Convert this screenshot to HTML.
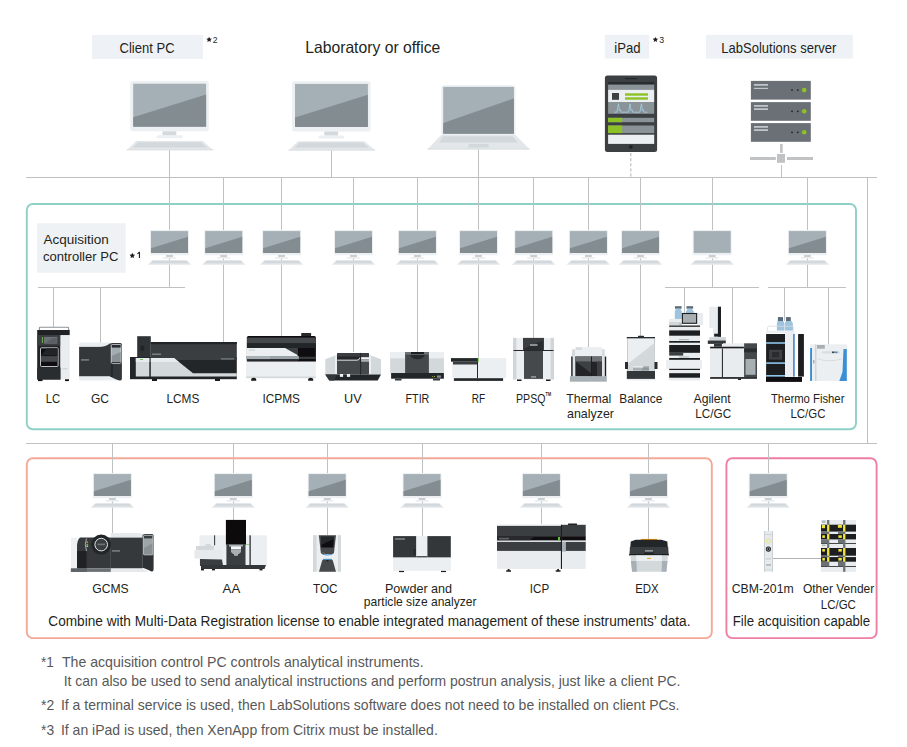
<!DOCTYPE html>
<html><head><meta charset="utf-8"><title>LabSolutions network</title>
<style>html,body{margin:0;padding:0;background:#fff;}svg{display:block;}</style>
</head><body>
<svg width="907" height="747" viewBox="0 0 907 747" font-family="Liberation Sans, sans-serif">
<rect width="907" height="747" fill="#ffffff"/>
<rect x="92" y="35" width="111" height="24" fill="#eef2f6"/>
<text x="119.56" y="53.05" font-size="14.2" fill="#231f20" textLength="55.02" lengthAdjust="spacingAndGlyphs">Client PC</text>
<polygon points="209.10,36.70 209.95,38.43 211.86,38.70 210.48,40.05 210.80,41.95 209.10,41.05 207.40,41.95 207.72,40.05 206.34,38.70 208.25,38.43" fill="#231f20"/>
<text x="212.78" y="42.7" font-size="9.3" fill="#231f20" textLength="4.81" lengthAdjust="spacingAndGlyphs">2</text>
<text x="305.21" y="52.9" font-size="16.5" fill="#231f20" textLength="135.06" lengthAdjust="spacingAndGlyphs">Laboratory or office</text>
<rect x="604.8" y="34.8" width="44.4" height="23.8" fill="#eef2f6"/>
<text x="614.32" y="53.05" font-size="14.2" fill="#231f20" textLength="26.23" lengthAdjust="spacingAndGlyphs">iPad</text>
<polygon points="655.40,36.90 656.22,38.57 658.06,38.83 656.73,40.13 657.05,41.97 655.40,41.10 653.75,41.97 654.07,40.13 652.74,38.83 654.58,38.57" fill="#231f20"/>
<text x="659.37" y="42.8" font-size="9.3" fill="#231f20" textLength="4.88" lengthAdjust="spacingAndGlyphs">3</text>
<rect x="706" y="34.8" width="146.8" height="23.8" fill="#eef2f6"/>
<text x="721.35" y="53.05" font-size="14.2" fill="#231f20" textLength="114.94" lengthAdjust="spacingAndGlyphs">LabSolutions server</text>
<rect x="26.8" y="204" width="829.2" height="225.3" rx="6" fill="none" stroke="#8fd0c6" stroke-width="1.9"/>
<rect x="26.8" y="458.2" width="685" height="179.9" rx="6" fill="none" stroke="#f4a897" stroke-width="1.9"/>
<rect x="726.4" y="458.2" width="150.2" height="179.9" rx="6" fill="none" stroke="#ee7fa3" stroke-width="1.9"/>
<rect x="26" y="177" width="851" height="1" fill="#bfc1c1"/>
<rect x="26" y="443" width="851" height="1" fill="#bfc1c1"/>
<rect x="867" y="177" width="1" height="267" fill="#bfc1c1"/>
<rect x="169" y="150" width="1" height="137" fill="#bfc1c1"/>
<rect x="331" y="150" width="1" height="27" fill="#bfc1c1"/>
<rect x="478" y="149" width="1" height="209" fill="#bfc1c1"/>
<rect x="630.4" y="153.0" width="0.9" height="3.2" fill="#a9adae"/>
<rect x="630.4" y="158.1" width="0.9" height="3.2" fill="#a9adae"/>
<rect x="630.4" y="163.2" width="0.9" height="3.2" fill="#a9adae"/>
<rect x="630.4" y="168.3" width="0.9" height="3.2" fill="#a9adae"/>
<rect x="630.4" y="173.4" width="0.9" height="3.2" fill="#a9adae"/>
<rect x="781" y="165" width="1" height="12" fill="#bfc1c1"/>
<rect x="223" y="177" width="1" height="165" fill="#bfc1c1"/>
<rect x="281" y="177" width="1" height="159" fill="#bfc1c1"/>
<rect x="353" y="177" width="1" height="175" fill="#bfc1c1"/>
<rect x="417" y="177" width="1" height="175" fill="#bfc1c1"/>
<rect x="533" y="177" width="1" height="161" fill="#bfc1c1"/>
<rect x="588" y="177" width="1" height="170" fill="#bfc1c1"/>
<rect x="640" y="177" width="1" height="160" fill="#bfc1c1"/>
<rect x="712" y="177" width="1" height="110" fill="#bfc1c1"/>
<rect x="807" y="177" width="1" height="110" fill="#bfc1c1"/>
<rect x="38" y="287" width="147" height="1" fill="#bfc1c1"/>
<rect x="53" y="287" width="1" height="40" fill="#bfc1c1"/>
<rect x="100" y="287" width="1" height="56" fill="#bfc1c1"/>
<rect x="665" y="287" width="94" height="1" fill="#bfc1c1"/>
<rect x="684" y="287" width="1" height="26" fill="#bfc1c1"/>
<rect x="732" y="287" width="1" height="59" fill="#bfc1c1"/>
<rect x="768" y="287" width="78" height="1" fill="#bfc1c1"/>
<rect x="784" y="287" width="1" height="34" fill="#bfc1c1"/>
<rect x="828" y="287" width="1" height="58" fill="#bfc1c1"/>
<rect x="112" y="443" width="1" height="90" fill="#bfc1c1"/>
<rect x="233" y="443" width="1" height="77" fill="#bfc1c1"/>
<rect x="327" y="443" width="1" height="92" fill="#bfc1c1"/>
<rect x="422" y="443" width="1" height="93" fill="#bfc1c1"/>
<rect x="541" y="443" width="1" height="81" fill="#bfc1c1"/>
<rect x="648" y="443" width="1" height="96" fill="#bfc1c1"/>
<rect x="768" y="443" width="1" height="88" fill="#bfc1c1"/>
<g transform="translate(169.5,81)"><rect x="-39.3" y="0" width="78.6" height="50.3" rx="2.2" fill="#ecf0f2"/><rect x="-36.3" y="2.7" width="72.9" height="43" fill="#a5b0b6"/><polygon points="-36.3,36.2 36.6,13.5 36.6,45.7 -36.3,45.7" fill="#838c90"/><rect x="-7" y="50.3" width="13.8" height="4.2" fill="#d3d9dc"/><rect x="-13" y="54.3" width="26.1" height="3" rx="1.5" fill="#ecf0f2"/><polygon points="-33.3,60 33.3,60 43.9,69.2 -42.8,69.2" fill="#e3e7ea"/><polygon points="-31.5,61.3 31.3,61.3 37.7,66.6 -36.8,66.6" fill="#d2d8db"/><rect x="-42.8" y="68.1" width="86.7" height="1.1" rx="0.5" fill="#dce1e4"/></g>
<g transform="translate(331.3,81.2)"><rect x="-39.3" y="0" width="78.6" height="50.3" rx="2.2" fill="#ecf0f2"/><rect x="-36.3" y="2.7" width="72.9" height="43" fill="#a5b0b6"/><polygon points="-36.3,36.2 36.6,13.5 36.6,45.7 -36.3,45.7" fill="#838c90"/><rect x="-7" y="50.3" width="13.8" height="4.2" fill="#d3d9dc"/><rect x="-13" y="54.3" width="26.1" height="3" rx="1.5" fill="#ecf0f2"/><polygon points="-33.3,60 33.3,60 43.9,69.2 -42.8,69.2" fill="#e3e7ea"/><polygon points="-31.5,61.3 31.3,61.3 37.7,66.6 -36.8,66.6" fill="#d2d8db"/><rect x="-42.8" y="68.1" width="86.7" height="1.1" rx="0.5" fill="#dce1e4"/></g>
<rect x="441.2" y="85.2" width="74.3" height="50" rx="2" fill="#ecf0f2"/>
<rect x="443.2" y="86.9" width="70.7" height="46.9" fill="#a5b0b6"/>
<polygon points="443.2,122.9 513.9,98.4 513.9,133.8 443.2,133.8" fill="#838c90"/>
<polygon points="441.2,135 515.5,135 529.8,149.4 427.3,149.4" fill="#e3e7ea"/>
<polygon points="443,136.2 512.6,136.2 517.9,142.5 439.2,142.5" fill="#d2d8db"/>
<polygon points="469.2,144 488.3,144 489,147.4 468,147.4" fill="#d2d8db"/>
<rect x="427.3" y="148.3" width="102.5" height="1.1" rx="0.5" fill="#dce1e4"/>
<rect x="604.9" y="75.6" width="52.2" height="76.3" rx="2.5" fill="#3c4043"/>
<rect x="625" y="78" width="12" height="1.2" fill="#25282a"/>
<rect x="608.1" y="82" width="46.1" height="2.6" fill="#2a2d30"/>
<rect x="608.1" y="84.6" width="46.1" height="5.1" fill="#8a9397"/>
<rect x="608.1" y="89.7" width="46.1" height="12.3" fill="#eceff2"/>
<rect x="612" y="93" width="7" height="6.8" fill="#3c4043"/>
<rect x="625" y="93.3" width="23" height="2.4" fill="#8cc225"/>
<rect x="625" y="97.3" width="23" height="2.4" fill="#8cc225"/>
<rect x="608.1" y="102" width="46.1" height="11.8" fill="#8a9397"/>
<polyline points="614.2,112.2 616.9,112.2 618.5,103.8 619.4,110.6 620.3,109.6 621.1,112.2 628.5,112.2 630.1,103.8 631.0,110.6 631.9,109.6 632.7,112.2 639.9,112.2 641.5,103.8 642.4,110.6 643.3,109.6 644.1,112.2 647.5,112.2" fill="none" stroke="#a7cfe6" stroke-width="0.8"/>
<rect x="608.1" y="117.8" width="46.1" height="4.4" fill="#8a9397"/>
<rect x="608.1" y="117.8" width="14.1" height="4.4" fill="#8cc225"/>
<rect x="608.1" y="125.5" width="46.1" height="7.6" fill="#8a9397"/>
<rect x="608.1" y="125.5" width="14.1" height="7.6" fill="#8cc225"/>
<rect x="608.1" y="134.7" width="46.1" height="9.2" fill="#eceff2"/>
<circle cx="630.8" cy="146.8" r="1.9" fill="#1f2224"/>
<rect x="750.9" y="80.9" width="59.9" height="18.7" fill="#6a7075"/>
<circle cx="792" cy="90.10000000000001" r="0.9" fill="#1f2224"/>
<circle cx="797.8" cy="90.10000000000001" r="0.9" fill="#1f2224"/>
<circle cx="804.2" cy="90.10000000000001" r="2.3" fill="#8cc225"/>
<rect x="750.9" y="102.1" width="59.9" height="18.7" fill="#6a7075"/>
<circle cx="792" cy="111.3" r="0.9" fill="#1f2224"/>
<circle cx="797.8" cy="111.3" r="0.9" fill="#1f2224"/>
<circle cx="804.2" cy="111.3" r="2.3" fill="#8cc225"/>
<rect x="750.9" y="123.1" width="59.9" height="18.7" fill="#6a7075"/>
<circle cx="792" cy="132.29999999999998" r="0.9" fill="#1f2224"/>
<circle cx="797.8" cy="132.29999999999998" r="0.9" fill="#1f2224"/>
<circle cx="804.2" cy="132.29999999999998" r="2.3" fill="#8cc225"/>
<rect x="754" y="84.1" width="14" height="1.6" fill="#c9cfd3"/>
<rect x="754" y="87.8" width="14" height="1.1" fill="#c9cfd3"/>
<rect x="754" y="105.1" width="14" height="1.6" fill="#c9cfd3"/>
<rect x="754" y="108.3" width="14" height="1.6" fill="#c9cfd3"/>
<rect x="754" y="126.1" width="14" height="1.6" fill="#c9cfd3"/>
<rect x="754" y="129.29999999999998" width="14" height="1.6" fill="#c9cfd3"/>
<rect x="780.1" y="144" width="2.6" height="8.9" fill="#c0c2c3"/>
<rect x="777" y="154" width="8" height="8.8" fill="#c0c2c3"/>
<rect x="750" y="157" width="25.8" height="3" fill="#c0c2c3"/>
<rect x="787" y="157" width="26" height="3" fill="#c0c2c3"/>
<rect x="37" y="223.2" width="88.8" height="49.6" fill="#eff2f5"/>
<text x="43.50" y="243.9" font-size="13.4" fill="#231f20" textLength="65.26" lengthAdjust="spacingAndGlyphs">Acquisition</text>
<text x="42.96" y="260.7" font-size="13.4" fill="#231f20" textLength="75.42" lengthAdjust="spacingAndGlyphs">controller PC</text>
<polygon points="132.30,252.80 133.15,254.53 135.06,254.80 133.68,256.15 134.00,258.05 132.30,257.15 130.60,258.05 130.92,256.15 129.54,254.80 131.45,254.53" fill="#231f20"/>
<path d="M137.2,253.4 L139,251.8 H140 V258.1 H138.9 V253.5 L137.6,254.3 Z" fill="#231f20"/>
<g transform="translate(169.5,230)"><rect x="-19.5" y="0" width="39" height="25.2" rx="1" fill="#ecf0f2"/><rect x="-18.5" y="1.1" width="37" height="21.8" fill="#a5b0b6"/><polygon points="-18.5,18.2 18.5,6.8 18.5,22.9 -18.5,22.9" fill="#838c90"/><rect x="-3.4" y="25" width="6.8" height="2.1" fill="#c8ced2"/><rect x="-6.6" y="27.1" width="13" height="1.6" fill="#eaeef0"/><polygon points="-17.2,30.3 17.4,30.3 21.7,34.8 -21.7,34.8" fill="#e3e7ea"/><polygon points="-16.5,30.8 16.7,30.8 19.3,33.2 -19.1,33.2" fill="#d2d8db"/></g>
<g transform="translate(223.7,230)"><rect x="-19.5" y="0" width="39" height="25.2" rx="1" fill="#ecf0f2"/><rect x="-18.5" y="1.1" width="37" height="21.8" fill="#a5b0b6"/><polygon points="-18.5,18.2 18.5,6.8 18.5,22.9 -18.5,22.9" fill="#838c90"/><rect x="-3.4" y="25" width="6.8" height="2.1" fill="#c8ced2"/><rect x="-6.6" y="27.1" width="13" height="1.6" fill="#eaeef0"/><polygon points="-17.2,30.3 17.4,30.3 21.7,34.8 -21.7,34.8" fill="#e3e7ea"/><polygon points="-16.5,30.8 16.7,30.8 19.3,33.2 -19.1,33.2" fill="#d2d8db"/></g>
<g transform="translate(281.6,230)"><rect x="-19.5" y="0" width="39" height="25.2" rx="1" fill="#ecf0f2"/><rect x="-18.5" y="1.1" width="37" height="21.8" fill="#a5b0b6"/><polygon points="-18.5,18.2 18.5,6.8 18.5,22.9 -18.5,22.9" fill="#838c90"/><rect x="-3.4" y="25" width="6.8" height="2.1" fill="#c8ced2"/><rect x="-6.6" y="27.1" width="13" height="1.6" fill="#eaeef0"/><polygon points="-17.2,30.3 17.4,30.3 21.7,34.8 -21.7,34.8" fill="#e3e7ea"/><polygon points="-16.5,30.8 16.7,30.8 19.3,33.2 -19.1,33.2" fill="#d2d8db"/></g>
<g transform="translate(353.5,230)"><rect x="-19.5" y="0" width="39" height="25.2" rx="1" fill="#ecf0f2"/><rect x="-18.5" y="1.1" width="37" height="21.8" fill="#a5b0b6"/><polygon points="-18.5,18.2 18.5,6.8 18.5,22.9 -18.5,22.9" fill="#838c90"/><rect x="-3.4" y="25" width="6.8" height="2.1" fill="#c8ced2"/><rect x="-6.6" y="27.1" width="13" height="1.6" fill="#eaeef0"/><polygon points="-17.2,30.3 17.4,30.3 21.7,34.8 -21.7,34.8" fill="#e3e7ea"/><polygon points="-16.5,30.8 16.7,30.8 19.3,33.2 -19.1,33.2" fill="#d2d8db"/></g>
<g transform="translate(417.4,230)"><rect x="-19.5" y="0" width="39" height="25.2" rx="1" fill="#ecf0f2"/><rect x="-18.5" y="1.1" width="37" height="21.8" fill="#a5b0b6"/><polygon points="-18.5,18.2 18.5,6.8 18.5,22.9 -18.5,22.9" fill="#838c90"/><rect x="-3.4" y="25" width="6.8" height="2.1" fill="#c8ced2"/><rect x="-6.6" y="27.1" width="13" height="1.6" fill="#eaeef0"/><polygon points="-17.2,30.3 17.4,30.3 21.7,34.8 -21.7,34.8" fill="#e3e7ea"/><polygon points="-16.5,30.8 16.7,30.8 19.3,33.2 -19.1,33.2" fill="#d2d8db"/></g>
<g transform="translate(478.5,230)"><rect x="-19.5" y="0" width="39" height="25.2" rx="1" fill="#ecf0f2"/><rect x="-18.5" y="1.1" width="37" height="21.8" fill="#a5b0b6"/><polygon points="-18.5,18.2 18.5,6.8 18.5,22.9 -18.5,22.9" fill="#838c90"/><rect x="-3.4" y="25" width="6.8" height="2.1" fill="#c8ced2"/><rect x="-6.6" y="27.1" width="13" height="1.6" fill="#eaeef0"/><polygon points="-17.2,30.3 17.4,30.3 21.7,34.8 -21.7,34.8" fill="#e3e7ea"/><polygon points="-16.5,30.8 16.7,30.8 19.3,33.2 -19.1,33.2" fill="#d2d8db"/></g>
<g transform="translate(533.7,230)"><rect x="-19.5" y="0" width="39" height="25.2" rx="1" fill="#ecf0f2"/><rect x="-18.5" y="1.1" width="37" height="21.8" fill="#a5b0b6"/><polygon points="-18.5,18.2 18.5,6.8 18.5,22.9 -18.5,22.9" fill="#838c90"/><rect x="-3.4" y="25" width="6.8" height="2.1" fill="#c8ced2"/><rect x="-6.6" y="27.1" width="13" height="1.6" fill="#eaeef0"/><polygon points="-17.2,30.3 17.4,30.3 21.7,34.8 -21.7,34.8" fill="#e3e7ea"/><polygon points="-16.5,30.8 16.7,30.8 19.3,33.2 -19.1,33.2" fill="#d2d8db"/></g>
<g transform="translate(588.4,230)"><rect x="-19.5" y="0" width="39" height="25.2" rx="1" fill="#ecf0f2"/><rect x="-18.5" y="1.1" width="37" height="21.8" fill="#a5b0b6"/><polygon points="-18.5,18.2 18.5,6.8 18.5,22.9 -18.5,22.9" fill="#838c90"/><rect x="-3.4" y="25" width="6.8" height="2.1" fill="#c8ced2"/><rect x="-6.6" y="27.1" width="13" height="1.6" fill="#eaeef0"/><polygon points="-17.2,30.3 17.4,30.3 21.7,34.8 -21.7,34.8" fill="#e3e7ea"/><polygon points="-16.5,30.8 16.7,30.8 19.3,33.2 -19.1,33.2" fill="#d2d8db"/></g>
<g transform="translate(640.5,230)"><rect x="-19.5" y="0" width="39" height="25.2" rx="1" fill="#ecf0f2"/><rect x="-18.5" y="1.1" width="37" height="21.8" fill="#a5b0b6"/><polygon points="-18.5,18.2 18.5,6.8 18.5,22.9 -18.5,22.9" fill="#838c90"/><rect x="-3.4" y="25" width="6.8" height="2.1" fill="#c8ced2"/><rect x="-6.6" y="27.1" width="13" height="1.6" fill="#eaeef0"/><polygon points="-17.2,30.3 17.4,30.3 21.7,34.8 -21.7,34.8" fill="#e3e7ea"/><polygon points="-16.5,30.8 16.7,30.8 19.3,33.2 -19.1,33.2" fill="#d2d8db"/></g>
<g transform="translate(807.4,230)"><rect x="-19.5" y="0" width="39" height="25.2" rx="1" fill="#ecf0f2"/><rect x="-18.5" y="1.1" width="37" height="21.8" fill="#a5b0b6"/><polygon points="-18.5,18.2 18.5,6.8 18.5,22.9 -18.5,22.9" fill="#838c90"/><rect x="-3.4" y="25" width="6.8" height="2.1" fill="#c8ced2"/><rect x="-6.6" y="27.1" width="13" height="1.6" fill="#eaeef0"/><polygon points="-17.2,30.3 17.4,30.3 21.7,34.8 -21.7,34.8" fill="#e3e7ea"/><polygon points="-16.5,30.8 16.7,30.8 19.3,33.2 -19.1,33.2" fill="#d2d8db"/></g>
<g transform="translate(712.2,230)"><rect x="-19.5" y="0" width="39" height="25.2" rx="1" fill="#ecf0f2"/><rect x="-18.5" y="1.1" width="37" height="21.8" fill="#a5b0b6"/><rect x="-3.4" y="25" width="6.8" height="2.1" fill="#c8ced2"/><rect x="-6.6" y="27.1" width="13" height="1.6" fill="#eaeef0"/><polygon points="-17.2,30.3 17.4,30.3 21.7,34.8 -21.7,34.8" fill="#e3e7ea"/><polygon points="-16.5,30.8 16.7,30.8 19.3,33.2 -19.1,33.2" fill="#d2d8db"/></g>
<g transform="translate(112.4,473)"><rect x="-19.5" y="0" width="39" height="25.2" rx="1" fill="#ecf0f2"/><rect x="-18.5" y="1.1" width="37" height="21.8" fill="#a5b0b6"/><polygon points="-18.5,18.2 18.5,6.8 18.5,22.9 -18.5,22.9" fill="#838c90"/><rect x="-3.4" y="25" width="6.8" height="2.1" fill="#c8ced2"/><rect x="-6.6" y="27.1" width="13" height="1.6" fill="#eaeef0"/><polygon points="-17.2,30.3 17.4,30.3 21.7,34.8 -21.7,34.8" fill="#e3e7ea"/><polygon points="-16.5,30.8 16.7,30.8 19.3,33.2 -19.1,33.2" fill="#d2d8db"/></g>
<g transform="translate(233.3,473)"><rect x="-19.5" y="0" width="39" height="25.2" rx="1" fill="#ecf0f2"/><rect x="-18.5" y="1.1" width="37" height="21.8" fill="#a5b0b6"/><polygon points="-18.5,18.2 18.5,6.8 18.5,22.9 -18.5,22.9" fill="#838c90"/><rect x="-3.4" y="25" width="6.8" height="2.1" fill="#c8ced2"/><rect x="-6.6" y="27.1" width="13" height="1.6" fill="#eaeef0"/><polygon points="-17.2,30.3 17.4,30.3 21.7,34.8 -21.7,34.8" fill="#e3e7ea"/><polygon points="-16.5,30.8 16.7,30.8 19.3,33.2 -19.1,33.2" fill="#d2d8db"/></g>
<g transform="translate(327.2,473)"><rect x="-19.5" y="0" width="39" height="25.2" rx="1" fill="#ecf0f2"/><rect x="-18.5" y="1.1" width="37" height="21.8" fill="#a5b0b6"/><polygon points="-18.5,18.2 18.5,6.8 18.5,22.9 -18.5,22.9" fill="#838c90"/><rect x="-3.4" y="25" width="6.8" height="2.1" fill="#c8ced2"/><rect x="-6.6" y="27.1" width="13" height="1.6" fill="#eaeef0"/><polygon points="-17.2,30.3 17.4,30.3 21.7,34.8 -21.7,34.8" fill="#e3e7ea"/><polygon points="-16.5,30.8 16.7,30.8 19.3,33.2 -19.1,33.2" fill="#d2d8db"/></g>
<g transform="translate(422,473)"><rect x="-19.5" y="0" width="39" height="25.2" rx="1" fill="#ecf0f2"/><rect x="-18.5" y="1.1" width="37" height="21.8" fill="#a5b0b6"/><polygon points="-18.5,18.2 18.5,6.8 18.5,22.9 -18.5,22.9" fill="#838c90"/><rect x="-3.4" y="25" width="6.8" height="2.1" fill="#c8ced2"/><rect x="-6.6" y="27.1" width="13" height="1.6" fill="#eaeef0"/><polygon points="-17.2,30.3 17.4,30.3 21.7,34.8 -21.7,34.8" fill="#e3e7ea"/><polygon points="-16.5,30.8 16.7,30.8 19.3,33.2 -19.1,33.2" fill="#d2d8db"/></g>
<g transform="translate(541.4,473)"><rect x="-19.5" y="0" width="39" height="25.2" rx="1" fill="#ecf0f2"/><rect x="-18.5" y="1.1" width="37" height="21.8" fill="#a5b0b6"/><polygon points="-18.5,18.2 18.5,6.8 18.5,22.9 -18.5,22.9" fill="#838c90"/><rect x="-3.4" y="25" width="6.8" height="2.1" fill="#c8ced2"/><rect x="-6.6" y="27.1" width="13" height="1.6" fill="#eaeef0"/><polygon points="-17.2,30.3 17.4,30.3 21.7,34.8 -21.7,34.8" fill="#e3e7ea"/><polygon points="-16.5,30.8 16.7,30.8 19.3,33.2 -19.1,33.2" fill="#d2d8db"/></g>
<g transform="translate(648.5,473)"><rect x="-19.5" y="0" width="39" height="25.2" rx="1" fill="#ecf0f2"/><rect x="-18.5" y="1.1" width="37" height="21.8" fill="#a5b0b6"/><polygon points="-18.5,18.2 18.5,6.8 18.5,22.9 -18.5,22.9" fill="#838c90"/><rect x="-3.4" y="25" width="6.8" height="2.1" fill="#c8ced2"/><rect x="-6.6" y="27.1" width="13" height="1.6" fill="#eaeef0"/><polygon points="-17.2,30.3 17.4,30.3 21.7,34.8 -21.7,34.8" fill="#e3e7ea"/><polygon points="-16.5,30.8 16.7,30.8 19.3,33.2 -19.1,33.2" fill="#d2d8db"/></g>
<g transform="translate(768.2,473)"><rect x="-19.5" y="0" width="39" height="25.2" rx="1" fill="#ecf0f2"/><rect x="-18.5" y="1.1" width="37" height="21.8" fill="#a5b0b6"/><polygon points="-18.5,18.2 18.5,6.8 18.5,22.9 -18.5,22.9" fill="#838c90"/><rect x="-3.4" y="25" width="6.8" height="2.1" fill="#c8ced2"/><rect x="-6.6" y="27.1" width="13" height="1.6" fill="#eaeef0"/><polygon points="-17.2,30.3 17.4,30.3 21.7,34.8 -21.7,34.8" fill="#e3e7ea"/><polygon points="-16.5,30.8 16.7,30.8 19.3,33.2 -19.1,33.2" fill="#d2d8db"/></g>
<!-- LC -->
<path d="M39.4,331 V328.1 Q39.4,327.2 40.3,327.2 H67.7 Q68.6,327.2 68.6,328.1 V331" fill="none" stroke="#8e9396" stroke-width="1.1"/>
<rect x="37.2" y="330" width="32.5" height="5.3" fill="#1f2124"/>
<rect x="37.2" y="335.2" width="23.3" height="44.3" fill="#222528"/>
<rect x="37.2" y="335.2" width="23.3" height="10.5" fill="#3a3e41"/>
<rect x="60.5" y="335.2" width="9.2" height="44.2" fill="#e9edf0"/>
<rect x="62.5" y="368" width="5" height="1.4" fill="#d2d7da"/>
<rect x="44" y="336.9" width="13.3" height="6.8" fill="#6b7175"/>
<polygon points="45.5,343 52.5,338 56.8,338 56.8,343" fill="#5a6064"/>
<rect x="41.9" y="337" width="0.9" height="6" fill="#6cc04a"/>
<rect x="40.5" y="347.8" width="17.6" height="18.7" rx="0.9" fill="#0f0d0f" stroke="#d0d5d8" stroke-width="0.9"/>
<polygon points="41,355.5 47,348.3 57.6,348.3 57.6,355.5" fill="#222528"/>
<rect x="41" y="356.1" width="16.6" height="5.7" fill="#45494c"/>
<rect x="37.2" y="367.5" width="23.3" height="12" fill="#2a2d30"/>
<rect x="38" y="379.3" width="4.5" height="1.8" fill="#111"/>
<rect x="65" y="379.3" width="4" height="1.8" fill="#111"/>
<!-- GC -->
<path d="M80.6,342.6 H110.2 V346.9 H79.1 V344.1 Q79.1,342.6 80.6,342.6 Z" fill="#eaedf0"/>
<path d="M99,346.9 Q106,346.9 110.4,343 V346.9 Z" fill="#33373a"/>
<rect x="79.1" y="346.9" width="31.4" height="29.6" fill="#33373a"/>
<path d="M79.1,376.5 H111 L117.5,380.6 H80.6 Q79.1,380.6 79.1,379.1 Z" fill="#eaedf0"/>
<path d="M110.2,344.5 Q110.2,343 112,343 H120.4 Q121.9,343 121.9,344.5 V378.7 Q121.9,380.6 119.8,380.6 Q117.5,380.6 110.2,376.5 Z" fill="#33373a"/>
<rect x="110.4" y="364" width="2.4" height="13" fill="#25282a"/>
<rect x="111.4" y="344.5" width="9.6" height="18.8" rx="1" fill="#a3acb1" stroke="#e3e7ea" stroke-width="0.7"/>
<rect x="111.8" y="344.9" width="8.8" height="2.7" fill="#2a2d30"/>
<polygon points="111.8,356 120.6,352 120.6,362.9 111.8,362.9" fill="#8a9195"/>
<rect x="111.8" y="362" width="8.8" height="0.9" fill="#2a2d30"/>
<rect x="81" y="359" width="8" height="1.8" fill="#6e7478"/>
<!-- LCMS -->
<rect x="137.2" y="336.2" width="13.6" height="21.2" fill="#2f3336"/>
<rect x="140.5" y="345.5" width="3.8" height="5.5" rx="1" fill="#222528"/>
<rect x="130" y="357" width="106.8" height="22.2" fill="#232629"/>
<rect x="150.8" y="342" width="86" height="18" fill="#3a3e41"/>
<rect x="150.8" y="342" width="86" height="2.2" fill="#222528"/>
<rect x="152" y="353.5" width="9" height="1.5" fill="#7a8084"/>
<rect x="135.8" y="358" width="13.5" height="18.5" fill="#d3d8da"/>
<rect x="135.8" y="358" width="13.5" height="4" fill="#e9ecee"/>
<rect x="140" y="359" width="3" height="0.8" fill="#5fb13b"/>
<polygon points="150.8,358 174,358 193,373.3 236.8,373.3 236.8,376.5 150.8,376.5" fill="#d3d8da"/>
<polygon points="150.8,358 174,358 178.9,362 150.8,362" fill="#e9ecee"/>
<rect x="221" y="358.3" width="13" height="1.2" fill="#7a8084"/>
<rect x="152" y="379" width="5" height="2" fill="#1a1a1a"/>
<rect x="215" y="379" width="5" height="2" fill="#1a1a1a"/>
<!-- ICPMS -->
<rect x="301.2" y="332.9" width="9.9" height="3.4" rx="0.6" fill="#27292c"/>
<path d="M248.4,336 H314.4 Q315.9,336 315.9,337.5 V362 H246.9 V337.5 Q246.9,336 248.4,336 Z" fill="#0f0d0f"/>
<rect x="246.9" y="337.6" width="69" height="5.9" fill="#45494c"/>
<rect x="246.9" y="343.5" width="69" height="4.5" fill="#232629"/>
<polygon points="285.1,348 298,348 298,355.5" fill="#3a3e41"/>
<polygon points="246.9,348 285.1,348 297.6,355.1 297.6,356 246.9,356" fill="#eceff1"/>
<rect x="249" y="349.5" width="6" height="1.1" fill="#c9ced1"/>
<rect x="298" y="356.8" width="17.9" height="2.1" fill="#3a3e41"/>
<rect x="246.1" y="356" width="52.8" height="3.3" fill="#9aa3a8"/>
<rect x="246.1" y="356" width="24" height="3.3" fill="#a7b0b5"/>
<rect x="246.9" y="359.3" width="51.1" height="1.7" fill="#27292c"/>
<path d="M246.1,361.5 H315.9 V377 Q315.9,378.6 314.3,378.6 H247.7 Q246.1,378.6 246.1,377 Z" fill="#eceff1"/>
<rect x="246.1" y="376.5" width="69.8" height="1.5" fill="#d3d8db"/>
<path d="M251.1,380.7 V379.6 Q251.1,377.8 253.6,377.8 Q256.2,377.8 256.2,379.6 V380.7 Z" fill="#1a1a1a"/>
<path d="M308.1,380.7 V379.6 Q308.1,377.8 310.6,377.8 Q313.2,377.8 313.2,379.6 V380.7 Z" fill="#1a1a1a"/>
<!-- UV -->
<polygon points="325.3,359.3 337,354.7 337,374.6 325.3,374.6" fill="#d3d8db"/>
<rect x="335" y="355.4" width="2" height="19.2" fill="#eceff1"/>
<polygon points="369,354.7 381,359.3 381,374.6 369,374.6" fill="#d3d8db"/>
<rect x="369" y="354.7" width="2" height="19.9" fill="#eceff1"/>
<rect x="337" y="352.9" width="32" height="21.7" rx="1.2" fill="#45494c"/>
<path d="M338.2,352.9 H367.8 Q369,352.9 369,354.1 V357.2 H361 V359.3 H337 V354.1 Q337,352.9 338.2,352.9 Z" fill="#3a3e41"/>
<rect x="337" y="356.6" width="23" height="2.8" fill="#232629"/>
<path d="M337.3,360.2 H357 Q359.6,360.2 359.8,357.6" fill="none" stroke="#e6eaed" stroke-width="0.9"/>
<rect x="361" y="357.2" width="8" height="2.2" fill="#f2f4f5"/>
<rect x="361" y="359.4" width="8" height="2.4" fill="#a7afb3"/>
<rect x="360.1" y="352.9" width="1" height="21.7" fill="#232629"/>
<polygon points="325.3,374.4 381,374.4 377.7,380.5 329.3,380.5" fill="#232629"/>
<polygon points="325.3,374.4 337,374.4 334,380.5 329.3,380.5" fill="#33373a"/>
<rect x="339.9" y="374" width="3.2" height="2.9" fill="#eef1f3"/>
<rect x="346.9" y="374" width="3.2" height="2.9" fill="#eef1f3"/>
<!-- FTIR -->
<rect x="390.2" y="352" width="53.7" height="21" fill="#d3d8db"/>
<rect x="390.2" y="352" width="53.7" height="6.3" fill="#eceff1"/>
<rect x="405.1" y="352" width="23.8" height="21" fill="#45494c"/>
<rect x="405.1" y="352" width="23.8" height="2.6" fill="#6b7175"/>
<rect x="411" y="352" width="13" height="2" fill="#1c1e20"/>
<path d="M410,355 H425 Q423,359.2 417.5,359.2 Q412,359.2 410,355 Z" fill="#27292c"/>
<rect x="391.1" y="373" width="52.8" height="5.7" fill="#232629"/>
<rect x="395" y="378.7" width="6.5" height="1.8" fill="#33373a"/>
<rect x="433" y="378.7" width="7" height="1.8" fill="#33373a"/>
<circle cx="432.5" cy="376.5" r="0.6" fill="#5bc236"/>
<circle cx="434.5" cy="376.5" r="0.6" fill="#f0a030"/>
<rect x="437" y="375.5" width="3.9" height="2.1" fill="#8a9094"/>
<!-- RF -->
<rect x="452.2" y="358.1" width="54" height="20.1" fill="#eceff1"/>
<rect x="451" y="358.1" width="26.7" height="3.6" fill="#25282a"/>
<rect x="453" y="361.7" width="24.7" height="2.8" fill="#3a3e41"/>
<rect x="477" y="358.1" width="1" height="20.1" fill="#25282a"/>
<rect x="477.7" y="358.1" width="1" height="3.8" fill="#5bc236"/>
<rect x="453.9" y="378.2" width="49.2" height="2.7" fill="#25282a"/>
<!-- PPSQ -->
<rect x="513" y="337.9" width="41" height="41.6" fill="#eceff1"/>
<rect x="513" y="337.9" width="3.4" height="41.6" fill="#d0d5d8"/>
<rect x="550.6" y="337.9" width="3.4" height="41.6" fill="#d0d5d8"/>
<rect x="523.1" y="337.9" width="20.8" height="12.8" fill="#2a2d30"/>
<polygon points="523.1,349 543.9,340 543.9,337.9 523.1,337.9" fill="#3a3e41"/>
<rect x="530" y="344" width="7.5" height="2" fill="#8a9094"/>
<rect x="513.5" y="350" width="40" height="1" fill="#25282a"/>
<rect x="524" y="351" width="19" height="27.9" fill="#45494c"/>
<rect x="531" y="376" width="5" height="1.8" fill="#8a9094"/>
<rect x="517" y="379.5" width="4.5" height="1.5" fill="#1a1a1a"/>
<rect x="546" y="379.5" width="4.5" height="1.5" fill="#1a1a1a"/>
<!-- Thermal -->
<rect x="571.9" y="349.3" width="32.9" height="7.2" rx="1" fill="#d5dadd"/>
<rect x="575" y="347.1" width="27" height="9.4" fill="#eceff1"/>
<rect x="576" y="347.3" width="6" height="2.5" fill="#d5dadd"/>
<rect x="571.2" y="356.5" width="1.6" height="20" fill="#1c1e20"/>
<rect x="572.8" y="356.5" width="2.5" height="20" fill="#dde2e5"/>
<rect x="602" y="356.5" width="2.8" height="20" fill="#dde2e5"/>
<rect x="604.8" y="356.5" width="1.4" height="20" fill="#1c1e20"/>
<rect x="575.3" y="356.5" width="26.7" height="20" fill="#222427"/>
<rect x="575.3" y="356.5" width="26.7" height="5.2" fill="#6b7175"/>
<polygon points="576,361.7 591,361.7 591,373" fill="#3c4043"/>
<rect x="597" y="361.7" width="5" height="14.8" fill="#3c4043"/>
<rect x="591" y="356.5" width="1" height="20" fill="#1c1e20"/>
<rect x="569.9" y="376.2" width="36.9" height="5.5" fill="#a7b0b5"/>
<!-- Balance -->
<rect x="638" y="335.8" width="6" height="1.6" rx="0.5" fill="#2a2d30"/>
<rect x="626.8" y="337" width="28.2" height="1.6" fill="#2a2d30"/>
<rect x="627.5" y="338.5" width="27" height="32.5" fill="#eceff1" stroke="#9aa2a6" stroke-width="0.5"/>
<polygon points="627.7,364 654.4,343 654.4,370.6 627.7,370.6" fill="#d3d8db"/>
<rect x="633" y="366.2" width="16" height="4.4" fill="#a7afb3"/>
<rect x="633" y="366.2" width="10" height="1.3" fill="#f4f6f7"/>
<polygon points="641,370.6 644,367.5 649,367.5 649,370.6" fill="#8f989d"/>
<rect x="625" y="362" width="3" height="7" fill="#2a2d30"/>
<rect x="654.5" y="362" width="3" height="7" fill="#2a2d30"/>
<rect x="626.8" y="371" width="28.2" height="7.9" fill="#33373a"/>
<rect x="627" y="379" width="28" height="1.5" fill="#eceff1"/>
<!-- Agilent LC stack -->
<rect x="675" y="306.2" width="6.6" height="2.5" fill="#5a6a78"/>
<rect x="686.5" y="306.2" width="6.6" height="2.5" fill="#5a6a78"/>
<path d="M676,308.7 H680.6 L681.8,311.5 V318.9 H674.8 V311.5 Z" fill="#9ec3dd"/>
<path d="M687.5,308.7 H692 L693.7,311.5 V318.9 H686 V311.5 Z" fill="#9ec3dd"/>
<rect x="669.2" y="318.9" width="12.4" height="6" fill="#e8ecef"/>
<rect x="669.2" y="322" width="12.4" height="2.9" fill="#d0d5d8"/>
<rect x="679" y="323.5" width="3" height="1.5" fill="#b4bbbf"/>
<rect x="697" y="313" width="6" height="11.9" fill="#e8ecef"/>
<rect x="682.4" y="313.5" width="14.2" height="9.8" fill="#a7afb3" stroke="#1c1e20" stroke-width="1.1"/>
<rect x="669.2" y="325.5" width="30.8" height="55" fill="#e8ecef"/>
<rect x="669.2" y="325.5" width="30.8" height="1.3" fill="#1c1e20"/>
<rect x="669.2" y="330.4" width="30.8" height="5.3" fill="#1c1e20"/>
<rect x="679" y="339" width="10" height="1.2" fill="#b4bbbf"/>
<rect x="669.2" y="341" width="30.8" height="1.7" fill="#1c1e20"/>
<rect x="669.2" y="345" width="30.8" height="7.8" fill="#1c1e20"/>
<rect x="669.2" y="352.8" width="14" height="2.8" fill="#3a3e41"/>
<rect x="679" y="356.4" width="10" height="1.2" fill="#b4bbbf"/>
<rect x="669.2" y="358" width="30.8" height="1.9" fill="#1c1e20"/>
<rect x="666.1" y="359.9" width="35.9" height="8.9" fill="#eceff1"/>
<rect x="669.2" y="368.8" width="30.8" height="1.2" fill="#1c1e20"/>
<rect x="669.2" y="373.2" width="30.8" height="4.5" fill="#1c1e20"/>
<!-- Agilent GC -->
<rect x="709.3" y="306.7" width="8.6" height="21.4" fill="#e8ecef"/>
<rect x="713" y="328" width="4.9" height="9" fill="#e8ecef"/>
<rect x="717.9" y="306.7" width="3.1" height="29.9" fill="#1c1e20"/>
<rect x="714.2" y="333.7" width="6.8" height="2.9" fill="#1c1e20"/>
<rect x="709.3" y="337.1" width="16.6" height="3.4" fill="#d0d5d8"/>
<rect x="707.8" y="340.5" width="18" height="3.4" fill="#33373a"/>
<rect x="714" y="343.9" width="7.9" height="2.8" fill="#33373a"/>
<rect x="723" y="343.3" width="21" height="3.4" fill="#eceff1"/>
<rect x="710.1" y="346.7" width="33.8" height="1.9" fill="#1c1e20"/>
<rect x="710.1" y="348.6" width="33.8" height="28.5" fill="#e8ecef"/>
<rect x="721.9" y="348.6" width="1" height="28.5" fill="#1c1e20"/>
<rect x="744.1" y="343.3" width="12.9" height="33.8" fill="#45494c"/>
<rect x="744.1" y="348.4" width="12.9" height="3.9" fill="#2a2d30"/>
<rect x="745.5" y="359" width="10" height="15.8" fill="#a7afb3"/>
<rect x="710.1" y="377.1" width="46.9" height="1.7" fill="#1c1e20"/>
<rect x="738" y="378.7" width="3" height="1.3" fill="#1c1e20"/>
<!-- Thermo LC -->
<rect x="777.9" y="317.1" width="5.1" height="3.9" fill="#5a6a78"/>
<rect x="786" y="317.1" width="4.8" height="3.9" fill="#5a6a78"/>
<path d="M777.5,321 H783.4 L784.5,323.5 V330.7 H776.9 V323.5 Z" fill="#9ec3dd"/>
<path d="M785.6,321 H791.4 L792.9,323.5 V330.7 H785.1 V323.5 Z" fill="#9ec3dd"/>
<path d="M767.5,330.7 V327.5 Q767.5,326.2 769,326.2 H792.5 Q793.4,326.2 793.4,327.5 V330.7" fill="none" stroke="#d7dde0" stroke-width="0.8"/>
<rect x="766" y="330.7" width="28.7" height="2.6" fill="#eceff1"/>
<rect x="766.1" y="334" width="19" height="43.1" fill="#1c1e20"/>
<rect x="766.1" y="342.2" width="19" height="1.6" fill="#8ec5ea"/>
<rect x="766.1" y="362.3" width="19" height="1.6" fill="#8ec5ea"/>
<rect x="766.1" y="375" width="19" height="1.6" fill="#8ec5ea"/>
<rect x="769" y="349.8" width="13.2" height="9.8" fill="#3c4043"/>
<rect x="772" y="352" width="7.2" height="5.4" fill="#2a2d30"/>
<rect x="785.1" y="333" width="9.6" height="44" fill="#eceff1"/>
<rect x="793" y="334" width="1.8" height="42.6" fill="#5b8fcf"/>
<rect x="798.1" y="334" width="5.8" height="42.6" fill="#1c1e20"/>
<rect x="766" y="377" width="36" height="4.9" fill="#0f0d0f"/>
<!-- Thermo MS -->
<rect x="810.1" y="344.3" width="36.7" height="36.6" fill="#eceff1"/>
<rect x="815" y="344.3" width="1.5" height="36.6" fill="#d0d5d8"/>
<rect x="817" y="345" width="7.8" height="3.7" fill="#a7afb3"/>
<rect x="810.1" y="348" width="1.9" height="32.9" fill="#3a8fd6"/>
<polygon points="843.5,349 846.8,349 846.8,380.9 839.3,380.9 842.5,372" fill="#3a8fd6"/>
<rect x="822" y="351.3" width="18" height="2.2" rx="1.1" fill="#d8dde0"/>
<rect x="832" y="351.5" width="2.5" height="1.6" fill="#3c4043"/>
<rect x="835" y="351.5" width="2.5" height="1.6" fill="#3a8fd6"/>
<path d="M818,359 Q829,362.5 842,359" fill="none" stroke="#c2c8cc" stroke-width="0.5"/>
<rect x="813.3" y="360" width="1" height="3.5" fill="#8a9094"/>
<!-- GCMS -->
<rect x="70.9" y="537.6" width="6.5" height="31" fill="#eef1f3"/>
<path d="M80,537.6 H110.9 V568.5 H77 V547 Q77,540 80,537.6 Z" fill="#35393c"/>
<rect x="77" y="551" width="9" height="17.5" fill="#1f2124"/>
<rect x="86" y="551" width="1" height="17.5" fill="#2a2d30"/>
<circle cx="101.2" cy="544.6" r="10" fill="#232629"/>
<circle cx="101.2" cy="544.6" r="6.3" fill="#3a3e41" stroke="#e3e7ea" stroke-width="1"/>
<rect x="97.5" y="543.6" width="7.5" height="1.6" fill="#6e7478"/>
<path d="M86.5,538.5 Q84,544 86.5,551" fill="none" stroke="#d6dbde" stroke-width="0.7"/>
<rect x="86.5" y="541.6" width="1.6" height="1.2" fill="#f0a030"/>
<rect x="86.5" y="543.8" width="1.6" height="1.2" fill="#5bc236"/>
<rect x="86.5" y="545.5" width="1.6" height="1.2" fill="#eef1f3"/>
<rect x="70.9" y="568.5" width="40" height="3.4" fill="#6b7175"/>
<rect x="70.9" y="568.5" width="16" height="3.4" fill="#5d6367"/>
<path d="M111,533.1 H138 Q140,533.1 142.5,534 L142.5,537.6 H111 Z" fill="#e6eaed"/>
<rect x="110.9" y="537.6" width="31.8" height="30.9" fill="#35393c"/>
<rect x="112" y="550" width="8" height="1.8" fill="#6e7478"/>
<path d="M110.9,568.5 H142.5 Q145,570 148,571.9 H110.9 Z" fill="#e6eaed"/>
<path d="M142.5,535 Q143.5,534 145.5,534 H152 Q153.6,534 153.6,535.5 V569 Q153.6,572 151.5,571.5 Q147,569 143.5,568 L142.5,568 Z" fill="#2e3134"/>
<rect x="143.5" y="535.3" width="9.3" height="19.6" rx="0.8" fill="#9ea5a9" stroke="#dfe3e6" stroke-width="0.6"/>
<rect x="144" y="535.8" width="8.3" height="2.6" fill="#3a3e41"/>
<polygon points="144,548 152.3,543.5 152.3,554.4 144,554.4" fill="#8a9195"/>
<!-- AA -->
<rect x="199.4" y="535.3" width="67.5" height="30.3" fill="#eceff1"/>
<rect x="214.2" y="535.3" width="0.9" height="10" fill="#1c1e20"/>
<rect x="249.5" y="535.3" width="1.2" height="32.7" fill="#1c1e20"/>
<rect x="246.4" y="544" width="2.5" height="0.7" fill="#5bc236"/>
<path d="M196,546 H205 L206,544 H210 L211.5,546 H214 V550 H196 Z" fill="#d3d8db"/>
<rect x="194.4" y="550" width="28" height="8.5" fill="#e6eaed"/>
<path d="M200,559 L222,559.5 L223,565.5 L200,566 Z" fill="#3a3e41"/>
<rect x="225.9" y="519.9" width="20.1" height="24.8" fill="#0d0a0c"/>
<rect x="226.4" y="544.7" width="19.1" height="20.9" fill="#3a3e41"/>
<rect x="229" y="544.7" width="14" height="1.8" fill="#a7afb3"/>
<rect x="231" y="546.3" width="10" height="2.9" fill="#f7f8f9"/>
<path d="M231,549.2 H241 V552 L239,554 H233 L231,552 Z" fill="#a7afb3"/>
<rect x="234" y="554" width="4" height="1.8" fill="#a7afb3"/>
<path d="M201,565 H266 L264.5,569 H201 Z" fill="#33373a"/>
<rect x="201" y="569" width="3" height="1.4" fill="#1c1e20"/>
<rect x="212" y="569" width="3" height="1.4" fill="#1c1e20"/>
<rect x="259.5" y="569" width="3" height="1.4" fill="#1c1e20"/>
<!-- TOC -->
<rect x="313" y="535.2" width="28" height="36.5" fill="#eceff1"/>
<rect x="313" y="535.2" width="3.6" height="36.5" fill="#d3d8db"/>
<rect x="338" y="535.2" width="3" height="36.5" fill="#d3d8db"/>
<path d="M318.8,535.2 H336 L334,552.5 Q333.7,554.3 331.5,554.3 H323.3 Q321.1,554.3 320.8,552.5 Z" fill="#45494c"/>
<polygon points="320.9,536.8 333.9,536.8 333.4,547.5 321.4,547.5" fill="#0f0d0f"/>
<polygon points="320.9,536.8 333.9,536.8 333.8,539 320.9,545" fill="#25282a"/>
<path d="M322.5,554.3 Q327.4,556 332.3,554.3" fill="none" stroke="#3a9ad9" stroke-width="0.9"/>
<circle cx="323.2" cy="552.3" r="0.5" fill="#5bc236"/>
<circle cx="324.4" cy="553.2" r="0.5" fill="#e05a4a"/>
<path d="M323.8,559.2 H331 Q332.6,559.2 332.9,560.8 L336,571.7 H319 L322.1,560.8 Q322.4,559.2 323.8,559.2 Z" fill="#45494c"/>
<rect x="323" y="558.8" width="8.8" height="0.9" fill="#3a9ad9"/>
<rect x="326.6" y="560" width="1.8" height="1.4" fill="#1c1e20"/>
<!-- Powder -->
<rect x="393.1" y="536.1" width="23.3" height="21.5" fill="#33373a"/>
<rect x="395" y="538" width="10" height="2" fill="#6e7478"/>
<rect x="413.5" y="549" width="2" height="6" fill="#25282a"/>
<rect x="416.4" y="536.1" width="11" height="20.1" fill="#eceff1"/>
<rect x="416.4" y="556.2" width="11" height="1.4" fill="#25282a"/>
<rect x="427.4" y="536.1" width="23.4" height="21.5" fill="#33373a"/>
<rect x="393.1" y="557.6" width="57.7" height="13.3" fill="#eceff1"/>
<rect x="399" y="570.9" width="5" height="1.2" fill="#1c1e20"/>
<rect x="441" y="570.9" width="5" height="1.2" fill="#1c1e20"/>
<!-- ICP -->
<rect x="568" y="523.6" width="9" height="1.6" rx="0.5" fill="#1c1e20"/>
<rect x="497" y="524.4" width="64" height="1.6" fill="#eceff1"/>
<rect x="497" y="525.9" width="88.7" height="43" fill="#e9ecee"/>
<rect x="561" y="524.8" width="24.7" height="11.6" fill="#3a3e41"/>
<rect x="497" y="525.9" width="64" height="10.5" fill="#3a3e41"/>
<rect x="497" y="536.2" width="88.7" height="4.4" fill="#0f0d0f"/>
<path d="M497,536.2 H537 Q533,536.4 530,540.6 H497 Z" fill="#27292c"/>
<rect x="499" y="537.8" width="10" height="1.6" fill="#5d6367"/>
<rect x="497" y="540.6" width="88.7" height="1.4" fill="#d6dbde"/>
<rect x="497" y="542" width="88.7" height="8.9" fill="#3a3e41"/>
<rect x="562" y="542" width="3.9" height="9.6" fill="#a7b0b6"/>
<rect x="560.9" y="524.8" width="1.1" height="44.1" fill="#1c1e20"/>
<rect x="558" y="537" width="2" height="3.4" fill="#5bc236"/>
<path d="M507.7,568.9 h1.8 v1.4 h1.5 v1.5 h-4.8 v-1.5 h1.5 z" fill="#1c1e20"/>
<path d="M557.2,568.9 h1.8 v1.4 h1.5 v1.5 h-4.8 v-1.5 h1.5 z" fill="#1c1e20"/>
<!-- EDX -->
<rect x="640.9" y="538.9" width="16.2" height="1.3" fill="#f39800"/>
<polygon points="635.6,539.8 661.5,539.8 667.3,541.6 668.5,554.4 629.5,554.4 630.8,541.6" fill="#232629"/>
<rect x="629.8" y="547" width="38.5" height="7.4" fill="#3a3e41"/>
<rect x="645" y="550" width="8" height="1.7" fill="#8a9094"/>
<rect x="644" y="552.5" width="10" height="2" fill="#232629"/>
<rect x="629.1" y="554" width="39.8" height="1.6" rx="0.6" fill="#1c1e20"/>
<polygon points="630.5,555.6 668,555.6 666.4,571.7 632.1,571.7" fill="#d3d8db"/>
<polygon points="636.2,555.6 662,555.6 662,560.9 636.4,560.9" fill="#eceff1"/>
<polygon points="630.9,560.9 636.4,560.9 636.9,571.7 632.1,571.7" fill="#a7b0b6"/>
<polygon points="662,560.9 667.5,560.9 666.4,571.7 661.6,571.7" fill="#a7b0b6"/>
<rect x="647.1" y="557.9" width="3.8" height="0.9" fill="#f39800"/>
<!-- CBM-201m -->
<rect x="764" y="531" width="9" height="40.8" fill="#e6eaed"/>
<rect x="764" y="531" width="0.8" height="40.8" fill="#c3c9cd"/>
<rect x="772.2" y="531" width="0.8" height="40.8" fill="#c3c9cd"/>
<rect x="764" y="534" width="9" height="0.6" fill="#c3c9cd"/>
<circle cx="768.4" cy="541" r="2" fill="none" stroke="#e3e34a" stroke-width="0.7"/>
<circle cx="768.4" cy="549.1" r="2.6" fill="#1c1e20"/>
<circle cx="768.4" cy="549.1" r="1.4" fill="none" stroke="#eceff1" stroke-width="0.5"/>
<rect x="766" y="558.5" width="5" height="0.8" fill="#b6bcc0"/>
<rect x="766" y="564" width="5" height="1.8" fill="#b6bcc0"/>
<rect x="764" y="569.5" width="9" height="0.6" fill="#c3c9cd"/>
<rect x="773" y="558" width="48" height="0.9" fill="#a9abab"/>
<!-- Other vender -->
<rect x="821" y="520" width="35" height="51.8" fill="#e8ecef"/>
<g fill="#1c1e20">
<rect x="821" y="524.7" width="35" height="6.9"/>
<rect x="821" y="534" width="35" height="5.4"/>
<rect x="821" y="543.2" width="35" height="0.8"/>
<rect x="821" y="548" width="35" height="7.7"/>
<rect x="821" y="557.1" width="35" height="4.6"/>
<rect x="821" y="566" width="35" height="0.8"/>
</g>
<g fill="#6b7175">
<rect x="821" y="531.6" width="7" height="2.4"/>
<rect x="838" y="531.6" width="6" height="2.4"/>
<rect x="821" y="539.4" width="7" height="3.8"/>
<rect x="838" y="539.4" width="6" height="3.8"/>
<rect x="821" y="555.7" width="7" height="1.4"/>
<rect x="838" y="555.7" width="6" height="1.4"/>
<rect x="821" y="561.7" width="7" height="4.3"/>
<rect x="838" y="561.7" width="6" height="4.3"/>
<rect x="827.1" y="520" width="2.2" height="46.5"/>
<rect x="843.1" y="520" width="2.3" height="51.8"/>
<rect x="822" y="520.5" width="3.5" height="2.3" fill="#b0b7bb"/>
<rect x="822" y="544.5" width="3.5" height="1.6" fill="#b0b7bb"/>
</g>
<g fill="#f2e63a">
<rect x="827.1" y="524.7" width="2.2" height="6.9"/>
<rect x="843.1" y="524.7" width="2.2" height="6.9"/>
<rect x="827.1" y="534" width="2.2" height="5.4"/>
<rect x="843.1" y="534" width="2.2" height="5.4"/>
<rect x="827.1" y="548" width="2.2" height="7.7"/>
<rect x="843.1" y="548" width="2.2" height="7.7"/>
<rect x="827.1" y="557.1" width="2.2" height="4.6"/>
<rect x="843.1" y="557.1" width="2.2" height="4.6"/>
<rect x="821.8" y="525" width="3.2" height="3.2"/>
<rect x="837.9" y="525" width="4" height="2.8"/>
<rect x="822.3" y="535.3" width="2.6" height="2.6"/>
<rect x="838.4" y="535.3" width="3.4" height="2.6"/>
<rect x="822.3" y="549" width="2.6" height="2.6"/>
<rect x="838.4" y="549" width="3.4" height="2.6"/>
<rect x="822.3" y="558" width="2.6" height="2.6"/>
<rect x="838.4" y="558" width="3.4" height="2.6"/>
</g>

<text x="45.79" y="402.8" font-size="13" fill="#231f20" textLength="14.42" lengthAdjust="spacingAndGlyphs">LC</text>
<text x="90.90" y="402.8" font-size="13" fill="#231f20" textLength="17.96" lengthAdjust="spacingAndGlyphs">GC</text>
<text x="166.44" y="402.8" font-size="13" fill="#231f20" textLength="32.87" lengthAdjust="spacingAndGlyphs">LCMS</text>
<text x="262.40" y="402.8" font-size="13" fill="#231f20" textLength="37.62" lengthAdjust="spacingAndGlyphs">ICPMS</text>
<text x="344.03" y="402.8" font-size="13" fill="#231f20" textLength="17.58" lengthAdjust="spacingAndGlyphs">UV</text>
<text x="405.53" y="402.8" font-size="13" fill="#231f20" textLength="23.85" lengthAdjust="spacingAndGlyphs">FTIR</text>
<text x="471.69" y="402.8" font-size="13" fill="#231f20" textLength="13.38" lengthAdjust="spacingAndGlyphs">RF</text>
<text x="516.04" y="402.8" font-size="13" fill="#231f20" textLength="29.47" lengthAdjust="spacingAndGlyphs">PPSQ</text>
<text x="566.26" y="402.8" font-size="13" fill="#231f20" textLength="45.02" lengthAdjust="spacingAndGlyphs">Thermal</text>
<text x="619.24" y="402.8" font-size="13" fill="#231f20" textLength="43.05" lengthAdjust="spacingAndGlyphs">Balance</text>
<text x="693.50" y="402.8" font-size="13" fill="#231f20" textLength="37.25" lengthAdjust="spacingAndGlyphs">Agilent</text>
<text x="770.98" y="402.8" font-size="13" fill="#231f20" textLength="73.46" lengthAdjust="spacingAndGlyphs">Thermo Fisher</text>
<text x="566.97" y="417.6" font-size="13" fill="#231f20" textLength="47.00" lengthAdjust="spacingAndGlyphs">analyzer</text>
<text x="695.35" y="417.6" font-size="13" fill="#231f20" textLength="35.78" lengthAdjust="spacingAndGlyphs">LC/GC</text>
<text x="790.48" y="417.6" font-size="13" fill="#231f20" textLength="34.95" lengthAdjust="spacingAndGlyphs">LC/GC</text>
<text x="545.6" y="396.4" font-size="5.2" font-weight="bold" fill="#231f20" textLength="5.4" lengthAdjust="spacingAndGlyphs">TM</text>
<text x="92.29" y="592.8" font-size="13" fill="#231f20" textLength="36.42" lengthAdjust="spacingAndGlyphs">GCMS</text>
<text x="222.60" y="592.8" font-size="13" fill="#231f20" textLength="17.64" lengthAdjust="spacingAndGlyphs">AA</text>
<text x="312.98" y="592.8" font-size="13" fill="#231f20" textLength="24.48" lengthAdjust="spacingAndGlyphs">TOC</text>
<text x="384.98" y="592.8" font-size="13" fill="#231f20" textLength="67.12" lengthAdjust="spacingAndGlyphs">Powder and</text>
<text x="529.83" y="592.8" font-size="13" fill="#231f20" textLength="19.37" lengthAdjust="spacingAndGlyphs">ICP</text>
<text x="635.17" y="592.8" font-size="13" fill="#231f20" textLength="23.57" lengthAdjust="spacingAndGlyphs">EDX</text>
<text x="731.79" y="592.8" font-size="13" fill="#231f20" textLength="61.90" lengthAdjust="spacingAndGlyphs">CBM-201m</text>
<text x="802.95" y="592.8" font-size="13" fill="#231f20" textLength="71.31" lengthAdjust="spacingAndGlyphs">Other Vender</text>
<text x="363.86" y="605.9" font-size="13" fill="#231f20" textLength="112.71" lengthAdjust="spacingAndGlyphs">particle size analyzer</text>
<text x="820.77" y="608.6" font-size="13" fill="#231f20" textLength="35.15" lengthAdjust="spacingAndGlyphs">LC/GC</text>
<text x="48.32" y="626" font-size="14" fill="#231f20" textLength="642.18" lengthAdjust="spacingAndGlyphs">Combine with Multi-Data Registration license to enable integrated management of these instruments’ data.</text>
<text x="732.76" y="625.9" font-size="14" fill="#231f20" textLength="137.38" lengthAdjust="spacingAndGlyphs">File acquisition capable</text>
<text x="41.02" y="666.8" font-size="15" fill="#585858" textLength="12.90" lengthAdjust="spacingAndGlyphs">*1</text>
<text x="61.92" y="666.8" font-size="15" fill="#585858" textLength="361.69" lengthAdjust="spacingAndGlyphs">The acquisition control PC controls analytical instruments.</text>
<text x="63.74" y="685.6" font-size="15" fill="#585858" textLength="616.74" lengthAdjust="spacingAndGlyphs">It can also be used to send analytical instructions and perform postrun analysis, just like a client PC.</text>
<text x="41.01" y="709.5" font-size="15" fill="#585858" textLength="13.16" lengthAdjust="spacingAndGlyphs">*2</text>
<text x="60.94" y="709.5" font-size="15" fill="#585858" textLength="618.52" lengthAdjust="spacingAndGlyphs">If a terminal service is used, then LabSolutions software does not need to be installed on client PCs.</text>
<text x="41.02" y="734.5" font-size="15" fill="#585858" textLength="13.06" lengthAdjust="spacingAndGlyphs">*3</text>
<text x="60.94" y="734.5" font-size="15" fill="#585858" textLength="376.85" lengthAdjust="spacingAndGlyphs">If an iPad is used, then XenApp from Citrix must be installed.</text>
</svg>
</body></html>
